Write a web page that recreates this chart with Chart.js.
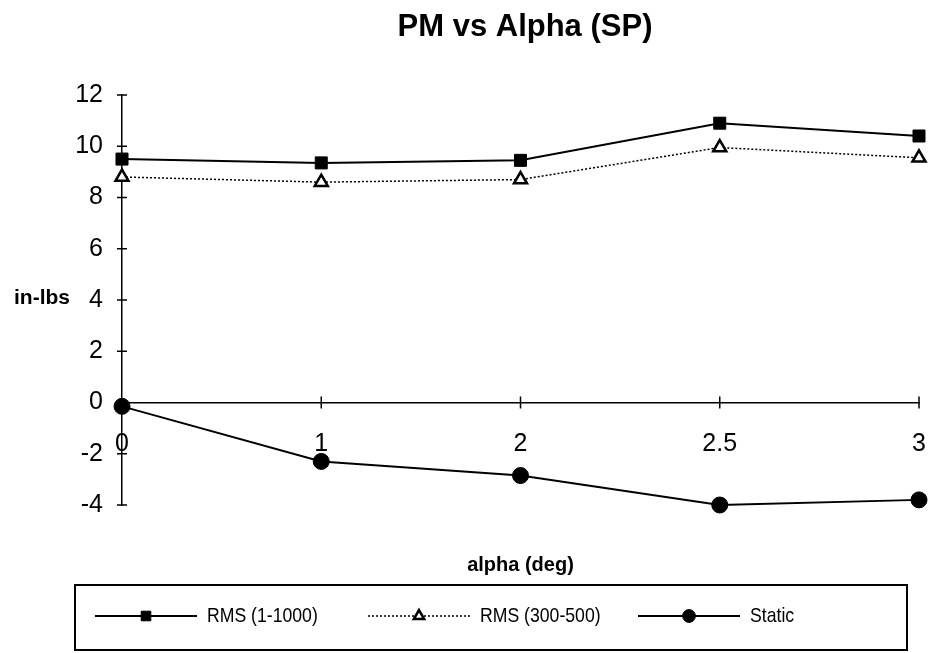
<!DOCTYPE html>
<html>
<head>
<meta charset="utf-8">
<script src="https://cdn.jsdelivr.net/npm/chart.js@4/dist/chart.umd.min.js"></script>
<style>
  html, body { margin: 0; padding: 0; background: #fff; }
  #wrap { width: 937px; height: 653px; position: relative; }
</style>
</head>
<body>
<div id="wrap"><canvas id="c" width="937" height="653"></canvas></div>
<script>
// Angle of attack categories (deg)
const alphaLabels = ['0', '1', '2', '2.5', '3'];
// Pitching moment, in-lbs
const rms1to1000 = [9.5, 9.35, 9.45, 10.9, 10.4];
const rms300to500 = [8.8, 8.6, 8.7, 9.95, 9.55];
const staticPM = [-0.15, -2.3, -2.85, -4.0, -3.8];
const seriesNames = ['RMS (1-1000)', 'RMS (300-500)', 'Static'];
const yTicks = { min: -4, max: 12, step: 2 };

const TICK_FONT = '"Liberation Sans", Arial, sans-serif';
const BOLD_FONT = '"Liberation Sans", Arial, sans-serif';

// Tick marks that cross the axis lines, plus title, axis titles and boxed legend
const decorations = {
  id: 'decorations',
  afterDraw(chart) {
    const { ctx, chartArea, scales } = chart;
    const xs = scales.x, ys = scales.y;
    const y0 = ys.getPixelForValue(0);
    ctx.save();
    ctx.strokeStyle = '#000';
    ctx.lineWidth = 1.5;
    ctx.beginPath();
    ys.ticks.forEach(t => {
      const py = ys.getPixelForValue(t.value);
      ctx.moveTo(chartArea.left - 5, py);
      ctx.lineTo(chartArea.left + 5, py);
    });
    xs.ticks.forEach((t, i) => {
      if (i === 0) return;
      const px = xs.getPixelForValue(i);
      ctx.moveTo(px, y0 - 6);
      ctx.lineTo(px, y0 + 6);
    });
    ctx.stroke();

    ctx.fillStyle = '#000';
    ctx.textAlign = 'center';
    ctx.textBaseline = 'middle';
    ctx.font = 'bold 31px ' + BOLD_FONT;
    ctx.fillText('PM vs Alpha (SP)', 525, 27);
    ctx.font = 'bold 21px ' + BOLD_FONT;
    ctx.fillText('in-lbs', 42, 298);
    ctx.font = 'bold 20px ' + BOLD_FONT;
    ctx.fillText('alpha (deg)', (chartArea.left + chartArea.right) / 2, 565);

    // legend box
    ctx.lineWidth = 2;
    ctx.strokeRect(75, 585, 832, 65);
    const slots = [95, 368, 638];
    const ly = 616;
    chart.data.datasets.forEach((ds, i) => {
      const x0 = slots[i], w = 102;
      ctx.save();
      ctx.strokeStyle = ds.borderColor;
      ctx.lineWidth = ds.borderWidth;
      ctx.setLineDash(ds.borderDash || []);
      ctx.beginPath();
      ctx.moveTo(x0, ly);
      ctx.lineTo(x0 + w, ly);
      ctx.stroke();
      ctx.restore();
      ctx.save();
      ctx.fillStyle = ds.pointBackgroundColor;
      ctx.strokeStyle = ds.pointBorderColor;
      ctx.lineWidth = ds.pointBorderWidth;
      Chart.helpers.drawPoint(ctx, {
        pointStyle: ds.pointStyle, rotation: 0, radius: ds.pointRadius * 0.8, borderWidth: ds.pointBorderWidth
      }, x0 + w / 2, ly);
      ctx.restore();
      // condensed legend text
      ctx.save();
      ctx.translate(x0 + w + 10, ly);
      ctx.scale(0.84, 1);
      ctx.fillStyle = '#000';
      ctx.textAlign = 'left';
      ctx.font = '21px ' + TICK_FONT;
      ctx.fillText(ds.label, 0, 0);
      ctx.restore();
    });
    ctx.restore();
  }
};

new Chart(document.getElementById('c'), {
  type: 'line',
  data: {
    labels: alphaLabels,
    datasets: [
      {
        label: seriesNames[0], data: rms1to1000,
        borderColor: '#000', borderWidth: 2, borderDash: [],
        pointStyle: 'rect', pointRadius: 8.5, pointBorderWidth: 1,
        pointBackgroundColor: '#000', pointBorderColor: '#000',
        tension: 0, clip: false
      },
      {
        label: seriesNames[1], data: rms300to500,
        borderColor: '#000', borderWidth: 1.5, borderDash: [2, 2],
        pointStyle: 'triangle', pointRadius: 7.5, pointBorderWidth: 2.5,
        pointBackgroundColor: '#fff', pointBorderColor: '#000',
        tension: 0, clip: false
      },
      {
        label: seriesNames[2], data: staticPM,
        borderColor: '#000', borderWidth: 2, borderDash: [],
        pointStyle: 'circle', pointRadius: 8, pointBorderWidth: 1,
        pointBackgroundColor: '#000', pointBorderColor: '#000',
        tension: 0, clip: false
      }
    ]
  },
  options: {
    responsive: false,
    animation: false,
    layout: { padding: { left: 0, right: 18, top: 95, bottom: 148 } },
    plugins: { legend: { display: false }, title: { display: false }, tooltip: { enabled: false } },
    scales: {
      x: {
        type: 'category',
        position: { y: 0 },
        offset: false,
        grid: { display: true, drawOnChartArea: false, drawTicks: false },
        border: { display: true, color: '#000', width: 1.5 },
        ticks: { color: '#000', font: { family: TICK_FONT, size: 25 }, padding: 27, maxRotation: 0, autoSkip: false },
        afterFit(axis) { axis.paddingLeft = 0; axis.paddingRight = 0; }
      },
      y: {
        min: yTicks.min, max: yTicks.max,
        grid: { display: true, drawOnChartArea: false, drawTicks: false },
        border: { display: true, color: '#000', width: 1.5 },
        ticks: { stepSize: yTicks.step, color: '#000', font: { family: TICK_FONT, size: 25 }, padding: 19 },
        afterFit(axis) { axis.width = 122; axis.paddingTop = 0; axis.paddingBottom = 0; }
      }
    }
  },
  plugins: [decorations]
});
</script>
</body>
</html>
